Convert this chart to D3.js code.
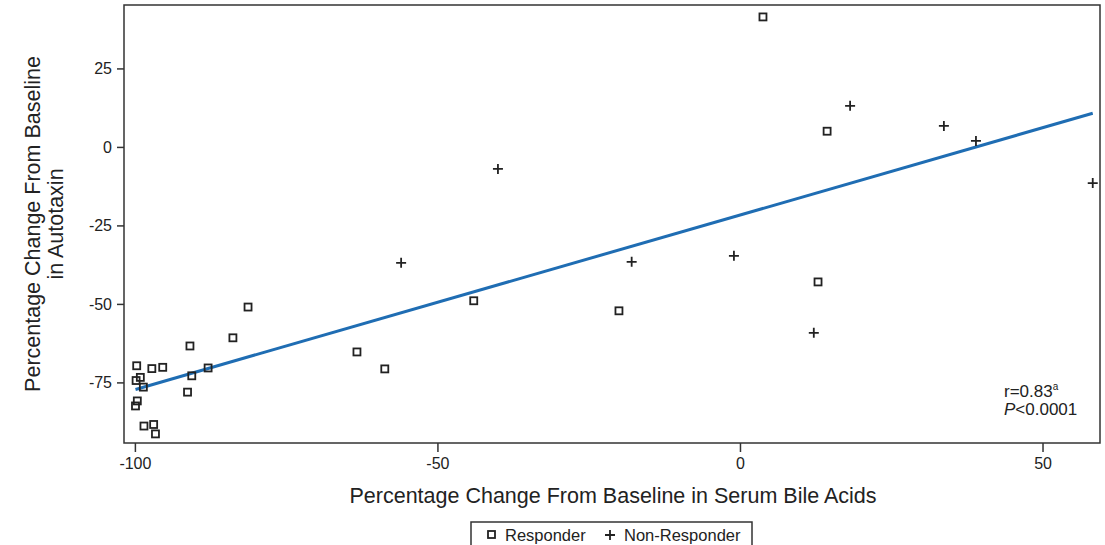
<!DOCTYPE html>
<html><head><meta charset="utf-8">
<script src="https://cdn.jsdelivr.net/npm/d3@7"></script>
<style>body{margin:0;background:#fff;} text{font-family:"Liberation Sans",Arial,sans-serif;fill:#222;}</style>
</head><body>
<svg id="c" width="1105" height="545"></svg>
<script>
const responderX = [3.8,14.4,12.9,-20.0,-44.0,-63.3,-58.7,-81.3,-83.8,-90.9,-87.9,-90.6,-91.3,-95.4,-97.2,-99.7,-99.1,-99.8,-98.6,-99.6,-99.9,-98.5,-96.9,-96.6];
const responderY = [41.4,5.0,-43.0,-52.2,-49.0,-65.3,-70.7,-51.0,-60.8,-63.4,-70.4,-72.9,-78.1,-70.2,-70.6,-69.7,-73.4,-74.4,-76.5,-80.9,-82.5,-88.9,-88.4,-91.4];
const nonRespX = [-40.0,-56.0,-17.9,-1.0,12.2,18.2,33.7,39.0,58.3];
const nonRespY = [-7.0,-36.9,-36.6,-34.7,-59.2,13.1,6.7,1.9,-11.5];
const xTicks = [-100,-50,0,50];
const yTicks = [25,0,-25,-50,-75];
const fitSlope = 0.556, fitIntercept = -21.7;
const xLabel = "Percentage Change From Baseline in Serum Bile Acids";
const yLabel = ["Percentage Change From Baseline","in Autotaxin"];
const legendLabels = ["Responder","Non-Responder"];

const svg = d3.select("#c");
const L=124, R=1100, T=5, B=443;
const x = d3.scaleLinear().domain([-101.8,59.5]).range([L,R]);
const y = d3.scaleLinear().domain([-94.3,45.2]).range([B,T]);
const fmt = d => String(d);

// frame
svg.append("rect").attr("x",L).attr("y",T).attr("width",R-L).attr("height",B-T)
  .attr("fill","none").attr("stroke","#333").attr("stroke-width",1.5);

// axes
const xa = svg.append("g").attr("transform",`translate(0,${B})`)
  .call(d3.axisBottom(x).tickValues(xTicks).tickSize(9).tickPadding(6).tickFormat(fmt));
const ya = svg.append("g").attr("transform",`translate(${L},0)`)
  .call(d3.axisLeft(y).tickValues(yTicks).tickSize(7).tickPadding(5).tickFormat(fmt));
[xa,ya].forEach(g=>{
  g.select(".domain").remove();
  g.selectAll("line").attr("stroke","#333").attr("stroke-width",1.5);
  g.selectAll("text").attr("font-size",16).attr("fill","#222").style("font-family","Liberation Sans, Arial, sans-serif");
});

// fit line
const xr = d3.extent(responderX.concat(nonRespX));
svg.append("line")
  .attr("x1",x(xr[0])).attr("y1",y(fitIntercept+fitSlope*xr[0]))
  .attr("x2",x(xr[1])).attr("y2",y(fitIntercept+fitSlope*xr[1]))
  .attr("stroke","#1f6db3").attr("stroke-width",3);

// responders
svg.append("g").selectAll("rect").data(d3.range(responderX.length)).join("rect")
  .attr("x",i=>x(responderX[i])-3.5).attr("y",i=>y(responderY[i])-3.5)
  .attr("width",7).attr("height",7).attr("fill","none").attr("stroke","#222").attr("stroke-width",1.8);

// non-responders
svg.append("g").selectAll("path").data(d3.range(nonRespX.length)).join("path")
  .attr("transform",i=>`translate(${x(nonRespX[i])},${y(nonRespY[i])})`)
  .attr("d","M-5,0H5M0,-5V5").attr("stroke","#222").attr("stroke-width",1.8).attr("fill","none");

// axis titles
svg.append("text").attr("x",(L+R)/2+1).attr("y",503).attr("text-anchor","middle").attr("font-size",21.5).text(xLabel);
const yt = svg.append("text").attr("transform","translate(40,224) rotate(-90)").attr("text-anchor","middle").attr("font-size",21.5);
yt.append("tspan").attr("x",0).attr("dy",0).text(yLabel[0]);
yt.append("tspan").attr("x",0).attr("dy",23).text(yLabel[1]);

// annotation
const a1 = svg.append("text").attr("x",1004).attr("y",397).attr("font-size",17);
a1.append("tspan").text("r=0.83");
a1.append("tspan").attr("font-size",10).attr("dy",-7).text("a");
const a2 = svg.append("text").attr("x",1004).attr("y",415).attr("font-size",17);
a2.append("tspan").attr("font-style","italic").text("P");
a2.append("tspan").text("<0.0001");

// legend
const lg = svg.append("g");
lg.append("rect").attr("x",471).attr("y",522).attr("width",281).attr("height",30)
  .attr("fill","none").attr("stroke","#333").attr("stroke-width",1.5);
lg.append("rect").attr("x",488).attr("y",531).attr("width",7).attr("height",7).attr("fill","none").attr("stroke","#222").attr("stroke-width",1.8);
lg.append("text").attr("x",505).attr("y",541).attr("font-size",16.5).text(legendLabels[0]);
lg.append("path").attr("d","M605,535H615M610,530V540").attr("stroke","#222").attr("stroke-width",1.8);
lg.append("text").attr("x",624).attr("y",541).attr("font-size",16.5).text(legendLabels[1]);
</script>
</body></html>
